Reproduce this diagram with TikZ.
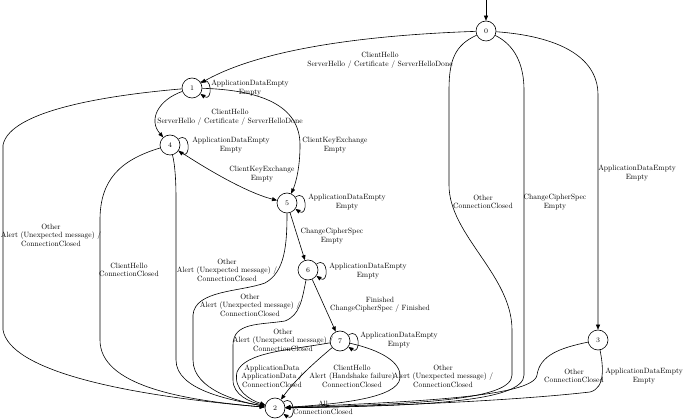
\documentclass[tikz,border=0pt]{standalone}
\usetikzlibrary{arrows.meta}
\begin{document}
\begin{tikzpicture}[x=1pt,y=-1pt,
  st/.style={circle,draw,line width=0.6pt,minimum size=20pt,inner sep=0pt,font=\fontsize{7}{8}\selectfont},
  edge/.style={draw,line width=0.6pt,-{Triangle[length=5pt,width=4pt]}},
  lbl/.style={align=center,inner sep=0pt,font=\fontsize{10}{11.3}\selectfont,scale=0.76,transform shape},
  loopy/.style={out=35,in=-35,distance=15pt}]
\useasboundingbox (0,0) rectangle (685,419);
% states
\node[st] (n0) at (486,31) {0};
\node[st] (n1) at (192,88) {1};
\node[st] (n4) at (170,145) {4};
\node[st] (n5) at (287,203) {5};
\node[st] (n6) at (308,270) {6};
\node[st] (n7) at (340,341) {7};
\node[st] (n2) at (275,408) {2};
\node[st] (n3) at (598,340) {3};
\coordinate (start) at (486,0);
\draw[edge] (start) -- (n0);
% self loops
\draw[edge] (n1) to[loopy] (n1);
\draw[edge] (n4) to[loopy] (n4);
\draw[edge] (n5) to[loopy] (n5);
\draw[edge] (n6) to[loopy] (n6);
\draw[edge] (n7) to[loopy] (n7);
\draw[edge] (n2) to[loopy] (n2);
\node[lbl] (l1) at (250,88) {ApplicationDataEmpty\\Empty};
\node[lbl] (l4) at (231,145) {ApplicationDataEmpty\\Empty};
\node[lbl] (l5) at (347,202) {ApplicationDataEmpty\\Empty};
\node[lbl] (l6) at (368,271) {ApplicationDataEmpty\\Empty};
\node[lbl] (l7) at (399,340) {ApplicationDataEmpty\\Empty};
\node[lbl] (l2) at (323,408) {All\\ConnectionClosed};
% from 0
\draw[edge] (n0) .. controls (400,34) and (272,43) .. (n1);
\node[lbl] (l01) at (380,60) {ClientHello\\ServerHello / Certificate / ServerHelloDone};
\draw[edge] (n0) .. controls (455,45) and (449,60) .. (449,90) -- (449,185)
  .. controls (449,235) and (512,275) .. (512,330) -- (512,375)
  .. controls (512,400) and (420,404) .. (n2);
\node[lbl] (l02a) at (483,202) {Other\\ConnectionClosed};
\draw[edge] (n0) .. controls (515,45) and (524,65) .. (524,90) -- (524,375)
  .. controls (524,402) and (420,406) .. (n2);
\node[lbl] (l02b) at (555,202) {ChangeCipherSpec\\Empty};
\draw[edge] (n0) .. controls (555,36) and (598,55) .. (598,95) -- (n3);
\node[lbl] (l03) at (637,173) {ApplicationDataEmpty\\Empty};
% from 3
\draw[edge] (n3) .. controls (560,348) and (540,355) .. (537,375)
  .. controls (534,398) and (400,402) .. (n2);
\node[lbl] (l32a) at (574,376) {Other\\ConnectionClosed};
\draw[edge] (n3) .. controls (603,365) and (606,388) .. (590,392)
  .. controls (520,400) and (400,406) .. (n2);
\node[lbl] (l32b) at (644,376) {ApplicationDataEmpty\\Empty};
% from 1
\draw[edge] (n1) .. controls (110,95) and (10,110) .. (3,145) -- (3,330)
  .. controls (10,370) and (120,395) .. (n2);
\node[lbl] (l12) at (51,235) {Other\\Alert (Unexpected message) /\\ConnectionClosed};
\draw[edge] (n1) .. controls (158,100) and (148,120) .. (n4);
\node[lbl] (l14) at (230,117) {ClientHello\\ServerHello / Certificate / ServerHelloDone};
\draw[edge] (n1) .. controls (260,90) and (300,105) .. (300,145)
  .. controls (300,170) and (295,185) .. (n5);
\node[lbl] (l15) at (335,145) {ClientKeyExchange\\Empty};
% from 4
\draw[edge] (n4) .. controls (205,168) and (245,192) .. (n5);
\node[lbl] (l45) at (262,174) {ClientKeyExchange\\Empty};
\draw[edge] (n4) .. controls (120,160) and (100,180) .. (100,220) -- (100,340)
  .. controls (100,385) and (180,400) .. (n2);
\node[lbl] (l42a) at (129,270) {ClientHello\\ConnectionClosed};
\draw[edge] (n4) .. controls (175,165) and (176,180) .. (176,200) -- (176,360)
  .. controls (176,390) and (230,400) .. (n2);
\node[lbl] (l42b) at (227,270) {Other\\Alert (Unexpected message) /\\ConnectionClosed};
% from 5
\draw[edge] (n5) -- (n6);
\node[lbl] (l56) at (332,236) {ChangeCipherSpec\\Empty};
\draw[edge] (n5) .. controls (287,245) and (285,272) .. (265,283)
  .. controls (240,292) and (195,290) .. (193,315) -- (193,360)
  .. controls (193,390) and (240,402) .. (n2);
\node[lbl] (l52) at (250,305) {Other\\Alert (Unexpected message) /\\ConnectionClosed};
% from 6
\draw[edge] (n6) -- (n7);
\node[lbl] (l67) at (380,305) {Finished\\ChangeCipherSpec / Finished};
\draw[edge] (n6) .. controls (302,300) and (300,315) .. (285,321)
  .. controls (260,325) and (233,322) .. (233,345) -- (233,380)
  .. controls (233,395) and (250,402) .. (n2);
\node[lbl] (l62) at (283,340) {Other\\Alert (Unexpected message) /\\ConnectionClosed};
% from 7
\draw[edge] (n7) .. controls (290,350) and (245,352) .. (237,372)
  .. controls (233,390) and (250,400) .. (n2);
\node[lbl] (l72a) at (272,376) {ApplicationData\\ApplicationData /\\ConnectionClosed};
\draw[edge] (n7) .. controls (315,362) and (295,380) .. (n2);
\node[lbl] (l72b) at (352,376) {ClientHello\\Alert (Handshake failure)\\ConnectionClosed};
\draw[edge] (n7) .. controls (380,350) and (402,362) .. (400,378)
  .. controls (398,398) and (340,404) .. (n2);
\node[lbl] (l72c) at (443,376) {Other\\Alert (Unexpected message) /\\ConnectionClosed};
\end{tikzpicture}
\end{document}
